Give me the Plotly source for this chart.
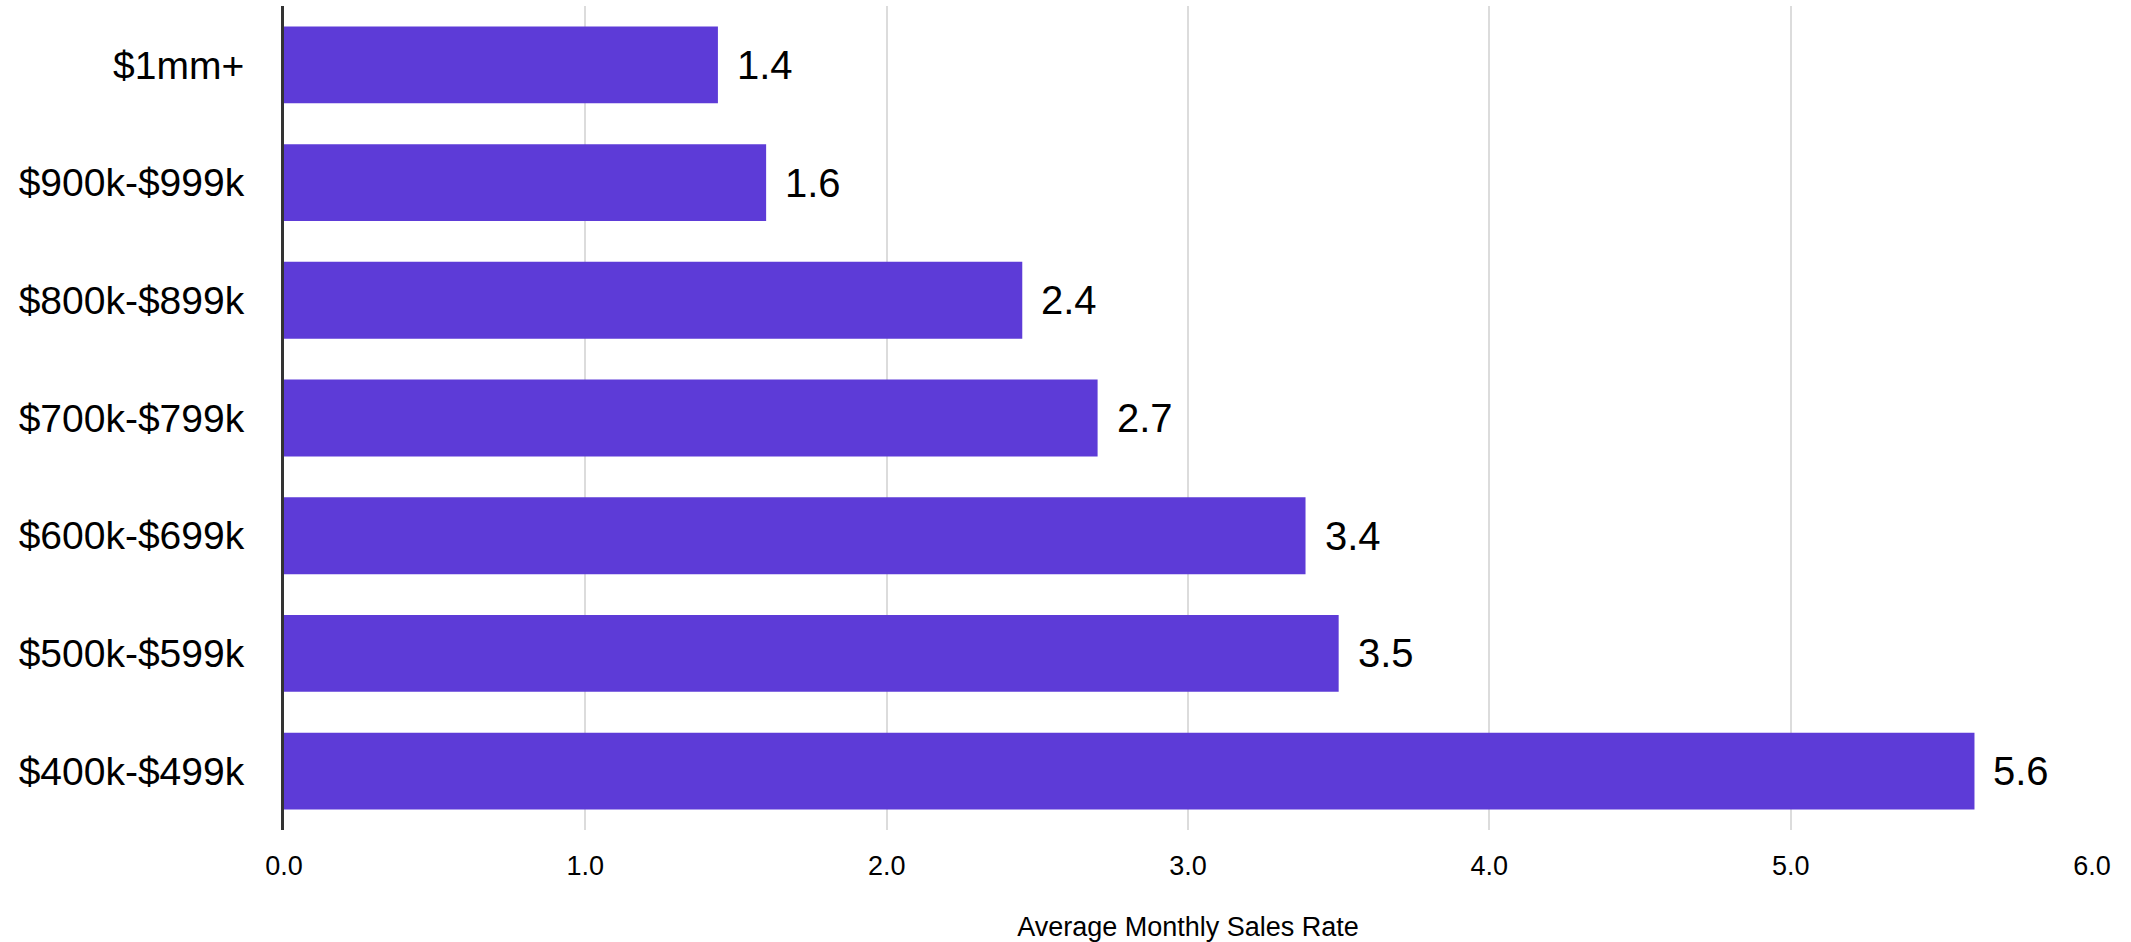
import plotly.graph_objects as go

# Price bands, listed top to bottom as displayed
price_bands = [
    "$1mm+",
    "$900k-$999k",
    "$800k-$899k",
    "$700k-$799k",
    "$600k-$699k",
    "$500k-$599k",
    "$400k-$499k",
]
sales_rate = [1.44, 1.6, 2.45, 2.7, 3.39, 3.5, 5.61]
value_labels = ["1.4", "1.6", "2.4", "2.7", "3.4", "3.5", "5.6"]
x_ticks = [0, 1, 2, 3, 4, 5, 6]
x_tick_text = ["0.0", "1.0", "2.0", "3.0", "4.0", "5.0", "6.0"]

FONT = "Liberation Sans Narrow, Arial Narrow, Liberation Sans, Arial, sans-serif"
BAR_COLOR = "#5d3bd7"

fig = go.Figure(
    go.Bar(
        x=sales_rate,
        y=price_bands,
        orientation="h",
        marker=dict(color=BAR_COLOR, line=dict(width=0)),
        hoverinfo="skip",
    )
)

# Value labels just past the end of each bar
for band, val, lab in zip(price_bands, sales_rate, value_labels):
    fig.add_annotation(
        x=val, y=band, text=lab, showarrow=False,
        xanchor="left", yanchor="middle", xshift=17,
        font=dict(family=FONT, size=40, color="#000000"),
    )

fig.update_layout(
    width=2131,
    height=942,
    margin=dict(l=284, r=39, t=6, b=112),
    paper_bgcolor="white",
    plot_bgcolor="white",
    bargap=0.347,
    showlegend=False,
    font=dict(family=FONT, color="#000000"),
)

fig.update_xaxes(
    range=[0, 6],
    tickvals=x_ticks,
    ticktext=x_tick_text,
    tickfont=dict(family=FONT, size=27, color="#000000"),
    showgrid=True,
    gridcolor="#dcdcdc",
    gridwidth=2,
    zeroline=False,
    showline=False,
    ticks="",
    ticklabelstandoff=17,
    automargin=False,
    title=dict(
        text="Average Monthly Sales Rate",
        font=dict(family=FONT, size=27, color="#000000"),
        standoff=38,
    ),
)

fig.update_yaxes(
    autorange="reversed",
    categoryorder="array",
    categoryarray=price_bands,
    tickfont=dict(family=FONT, size=39, color="#000000"),
    showgrid=False,
    zeroline=False,
    showline=True,
    linecolor="#333333",
    linewidth=3,
    ticks="",
    ticklabelstandoff=29,
    automargin=False,
)

fig.write_html("out.html")
